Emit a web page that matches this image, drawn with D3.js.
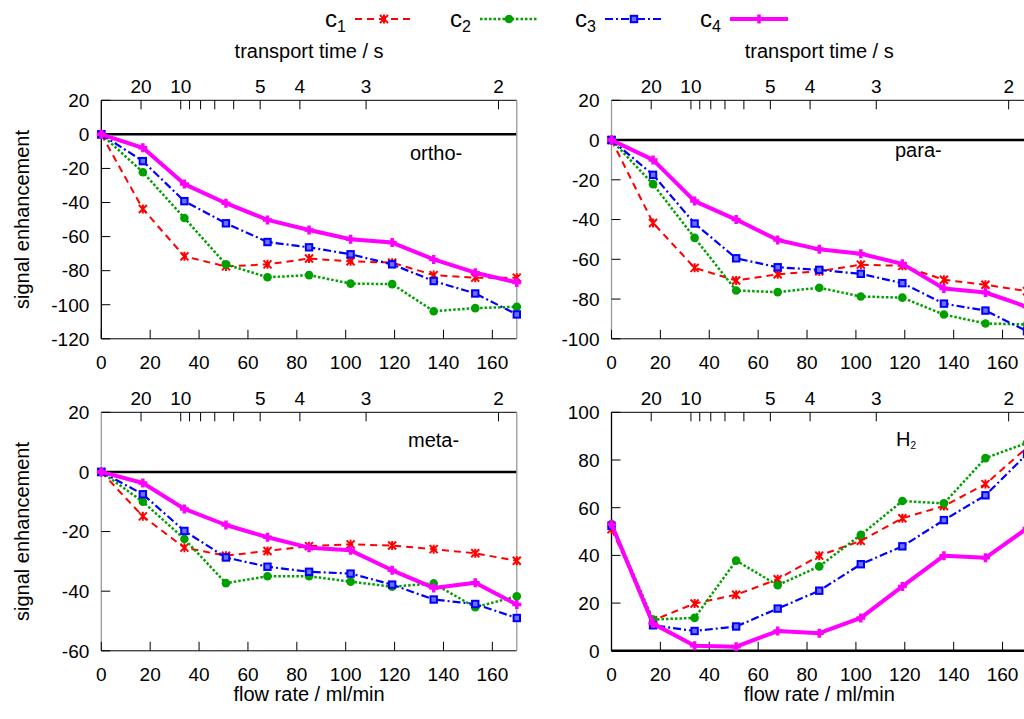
<!DOCTYPE html>
<html><head><meta charset="utf-8">
<script src="https://cdn.jsdelivr.net/npm/d3@7"></script>
<style>
body{margin:0;background:#fff;overflow:hidden}
svg{display:block}
text{font-family:"Liberation Sans",Arial,Helvetica,sans-serif;fill:#000}
</style>
</head><body>
<svg id="chart" width="1024" height="719"></svg>
<script>
// ---------------- data ----------------
const flowRates = [0, 17, 34, 51, 68, 85, 102, 119, 136, 153, 170];
const seriesNames = ["c1", "c2", "c3", "c4"];

const orthoC1 = [0, -43.8, -71.6, -77.5, -76.3, -72.9, -74.5, -75.3, -82.6, -84.1, -84.1];
const orthoC2 = [0, -22.2, -49.1, -76.3, -83.9, -82.6, -87.6, -87.9, -103.8, -102, -101.2];
const orthoC3 = [0, -15.7, -39.2, -52.2, -63.2, -66.3, -70.4, -76.3, -86.1, -93.4, -105.7];
const orthoC4 = [0, -7.9, -29.2, -40.4, -50.2, -56.1, -61.6, -63.5, -73.4, -81.2, -86.9];

const paraC1 = [0, -41.7, -64.3, -70.7, -67.5, -66, -62.7, -63.3, -70.3, -72.8, -76];
const paraC2 = [0, -22.2, -49.2, -75.7, -76.5, -74.3, -78.7, -79.3, -87.8, -92.3, -92.8];
const paraC3 = [0, -17.5, -42, -59.5, -64, -65.3, -67.3, -72, -82.3, -85.8, -96.2];
const paraC4 = [0, -10, -30.7, -40, -50.3, -55, -57.2, -62.3, -74.7, -76.7, -83.9];

const metaC1 = [0, -14.9, -25.4, -28.1, -26.5, -24.9, -24.3, -24.7, -25.9, -27.3, -29.8];
const metaC2 = [0, -10, -22.5, -37.3, -35, -35, -36.8, -38.5, -37.4, -45.4, -41.7];
const metaC3 = [0, -7.5, -19.8, -28.7, -31.8, -33.5, -34.1, -37.8, -42.8, -44.3, -49];
const metaC4 = [0, -3.7, -12.4, -17.8, -21.9, -25.4, -26.3, -33, -38.9, -37.2, -44.5];

const h2C1 = [51, 12.8, 19.8, 23.5, 30, 39.9, 46.1, 55.6, 60.7, 69.9, 85.2];
const h2C2 = [53.1, 13.1, 13.8, 37.8, 27.5, 35.4, 48.6, 62.8, 61.8, 80.8, 87.2];
const h2C3 = [52.4, 10.7, 8.3, 10.2, 17.7, 25.2, 36.3, 43.8, 54.8, 65.2, 82.5];
const h2C4 = [53.1, 11.4, 2.1, 1.7, 8.3, 7.4, 13.8, 27, 39.9, 39, 51.3];

const flowTicks = [0, 20, 40, 60, 80, 100, 120, 140, 160];
const transportMajorTicks = [20, 10, 5, 4, 3, 2];
const transportMinorTicks = [9, 8, 7, 6];
const transportConst = 325; // transport time [s] = transportConst / flow rate [ml/min]

const orthoYTicks = [-120, -100, -80, -60, -40, -20, 0, 20];
const paraYTicks = [-100, -80, -60, -40, -20, 0, 20];
const metaYTicks = [-60, -40, -20, 0, 20];
const h2YTicks = [0, 20, 40, 60, 80, 100];

// ---------------- styles ----------------
const colors = ["#ff0000", "#00a000", "#0000ff", "#ff00ff"];
const dashes = ["7,5", "2.5,2", "8,3,2,3", null];
const widths = [2, 2.5, 2.2, 4];

const panels = [
  {title: "ortho-", series: [orthoC1, orthoC2, orthoC3, orthoC4], yDomain: [-120, 20], yTicks: orthoYTicks,
   x0: 101.3, y0: 100.3, ylab: true, xlab: false, toplab: true, leftCol: "#000", tx: 410, ty: 160},
  {title: "para-", series: [paraC1, paraC2, paraC3, paraC4], yDomain: [-100, 20], yTicks: paraYTicks,
   x0: 611.5, y0: 100.3, ylab: false, xlab: false, toplab: true, leftCol: "#999", tx: 895, ty: 157},
  {title: "meta-", series: [metaC1, metaC2, metaC3, metaC4], yDomain: [-60, 20], yTicks: metaYTicks,
   x0: 101.3, y0: 412.3, ylab: true, xlab: true, toplab: false, leftCol: "#999", tx: 408, ty: 447},
  {title: "H", sub: "2", series: [h2C1, h2C2, h2C3, h2C4], yDomain: [0, 100], yTicks: h2YTicks,
   x0: 611.5, y0: 412.3, ylab: false, xlab: true, toplab: false, leftCol: "#000", tx: 896, ty: 446}
];
const PW = 415.5, PH = 238.5, TL = 9;

const svg = d3.select("#chart");

function marker(g, i, x, y) {
  const c = colors[i];
  if (i === 0) {
    g.append("path").attr("transform", `translate(${x},${y})`)
      .attr("d", "M-4,-4L4,4M-4,4L4,-4M0,-4.5L0,4.5")
      .attr("stroke", c).attr("stroke-width", 2).attr("fill", "none");
  } else if (i === 1) {
    g.append("circle").attr("cx", x).attr("cy", y).attr("r", 4.3).attr("fill", c);
  } else if (i === 2) {
    g.append("rect").attr("x", x - 3.2).attr("y", y - 3.2).attr("width", 6.4).attr("height", 6.4)
      .attr("fill", "#7070ff").attr("stroke", c).attr("stroke-width", 2);
  } else {
    g.append("path").attr("transform", `translate(${x},${y})`)
      .attr("d", "M-4.5,0H4.5M0,-4.5V4.5")
      .attr("stroke", c).attr("stroke-width", 3.5).attr("fill", "none");
  }
}

panels.forEach(p => {
  const x = d3.scaleLinear().domain([0, 170]).range([p.x0, p.x0 + PW]);
  const y = d3.scaleLinear().domain(p.yDomain).range([p.y0 + PH, p.y0]);
  const g = svg.append("g");
  const x1 = p.x0 + PW, y1 = p.y0 + PH;

  // zero line
  g.append("line").attr("x1", p.x0).attr("x2", x1).attr("y1", y(0)).attr("y2", y(0))
    .attr("stroke", "#000").attr("stroke-width", 2.5);

  // borders
  g.append("line").attr("x1", p.x0).attr("x2", x1).attr("y1", p.y0).attr("y2", p.y0).attr("stroke", "#000");
  g.append("line").attr("x1", p.x0).attr("x2", x1).attr("y1", y1).attr("y2", y1).attr("stroke", "#000");
  g.append("line").attr("x1", p.x0).attr("x2", p.x0).attr("y1", p.y0).attr("y2", y1).attr("stroke", p.leftCol).attr("stroke-width", 1.3);
  g.append("line").attr("x1", x1).attr("x2", x1).attr("y1", p.y0).attr("y2", y1).attr("stroke", "#999").attr("stroke-width", 1.3);

  // y ticks
  p.yTicks.forEach(t => {
    g.append("line").attr("x1", p.x0).attr("x2", p.x0 + TL).attr("y1", y(t)).attr("y2", y(t)).attr("stroke", "#000");
    g.append("text").attr("x", p.x0 - 12).attr("y", y(t)).attr("dy", "0.36em")
      .attr("text-anchor", "end").attr("font-size", 19).text(t);
  });
  // bottom ticks
  flowTicks.forEach(t => {
    g.append("line").attr("x1", x(t)).attr("x2", x(t)).attr("y1", y1).attr("y2", y1 - TL).attr("stroke", "#000");
    g.append("text").attr("x", x(t)).attr("y", y1 + 30).attr("text-anchor", "middle").attr("font-size", 19).text(t);
  });
  // top (transport time) ticks
  transportMajorTicks.forEach(t => {
    const xv = x(transportConst / t);
    g.append("line").attr("x1", xv).attr("x2", xv).attr("y1", p.y0).attr("y2", p.y0 + TL).attr("stroke", "#000");
    g.append("text").attr("x", xv).attr("y", p.y0 - 7).attr("text-anchor", "middle").attr("font-size", 19).text(t);
  });
  transportMinorTicks.forEach(t => {
    const xv = x(transportConst / t);
    g.append("line").attr("x1", xv).attr("x2", xv).attr("y1", p.y0).attr("y2", p.y0 + TL).attr("stroke", "#000");
  });

  // axis labels
  if (p.ylab) {
    g.append("text").attr("transform", `translate(29,${p.y0 + PH / 2}) rotate(-90)`)
      .attr("text-anchor", "middle").attr("font-size", 20).text("signal enhancement");
  }
  if (p.xlab) {
    g.append("text").attr("x", p.x0 + PW / 2).attr("y", y1 + 50).attr("text-anchor", "middle")
      .attr("font-size", 20).text("flow rate / ml/min");
  }
  if (p.toplab) {
    g.append("text").attr("x", p.x0 + PW / 2).attr("y", p.y0 - 42).attr("text-anchor", "middle")
      .attr("font-size", 20).text("transport time / s");
  }
  // panel title
  const tt = g.append("text").attr("x", p.tx).attr("y", p.ty).attr("font-size", 20).text(p.title);
  if (p.sub) tt.append("tspan").attr("font-size", 10).attr("dy", 3).text(p.sub);

  // series
  p.series.forEach((vals, i) => {
    const pts = flowRates.map((f, k) => [f, vals[k]]);
    const line = d3.line().x(d => x(d[0])).y(d => y(d[1]));
    g.append("path").attr("d", line(pts)).attr("fill", "none").attr("stroke", colors[i])
      .attr("stroke-width", widths[i]).attr("stroke-dasharray", dashes[i]).attr("stroke-linejoin", "round");
    pts.forEach(d => marker(g, i, x(d[0]), y(d[1])));
  });
});

// legend
const lg = svg.append("g");
seriesNames.forEach((name, i) => {
  const bx = 325 + i * 125;
  const t = lg.append("text").attr("x", bx).attr("y", 26.5).attr("font-size", 24).text(name[0]);
  t.append("tspan").attr("font-size", 16).attr("dy", 5).text(name.slice(1));
  lg.append("line").attr("x1", bx + 30).attr("x2", bx + 88).attr("y1", 19).attr("y2", 19)
    .attr("stroke", colors[i]).attr("stroke-width", widths[i]).attr("stroke-dasharray", dashes[i]);
  marker(lg, i, bx + 59, 19);
});
</script>
</body></html>
